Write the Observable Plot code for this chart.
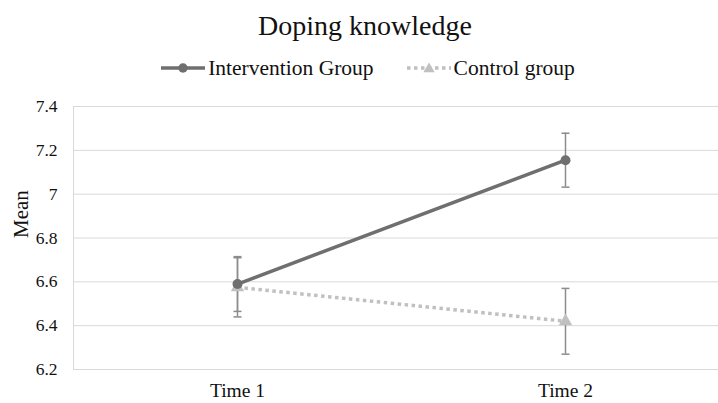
<!DOCTYPE html>
<html>
<head>
<meta charset="utf-8">
<script src="https://cdn.jsdelivr.net/npm/d3@7"></script>
<script src="https://cdn.jsdelivr.net/npm/@observablehq/plot@0.6"></script>
<style>
  body { margin: 0; background: #fff; font-family: "Liberation Serif", serif; color: #111; }
  #wrap { width: 718px; height: 403px; overflow: hidden; position: relative; }
  #title { height: 48px; line-height: 52px; text-align: center; font-size: 28px; padding-left: 12px; }
  #legend { height: 40px; display: flex; justify-content: center; align-items: center; font-size: 21.5px; gap: 33px; padding-left: 18px; }
  .item { display: flex; align-items: center; gap: 3px; }
  #chart svg, #chart svg text, #chart svg g { font-family: "Liberation Serif", serif !important; font-variant: normal !important; }
  svg { display: block; }
</style>
</head>
<body>
<div id="wrap">
  <div id="title"></div>
  <div id="legend"></div>
  <div id="chart"></div>
</div>
<script>
// ---- data ----
const times = ["Time 1", "Time 2"];
const interventionMean = [6.59, 7.155];
const interventionErr = [0.125, 0.123];
const controlMean = [6.575, 6.42];
const controlErr = [0.135, 0.15];
const seriesNames = ["Intervention Group", "Control group"];
const yTicks = [6.2, 6.4, 6.6, 6.8, 7, 7.2, 7.4];
const titleText = "Doping knowledge";
const yLabel = "Mean";

const colors = {"Intervention Group": "#6f6f6f", "Control group": "#c0c0c0"};
const dashes = {"Intervention Group": null, "Control group": "3.5,3.5"};
const symbols = {"Intervention Group": "circle", "Control group": "triangle"};

const rows = [];
times.forEach((t, i) => {
  rows.push({time: t, series: seriesNames[0], mean: interventionMean[i], err: interventionErr[i]});
});
times.forEach((t, i) => {
  rows.push({time: t, series: seriesNames[1], mean: controlMean[i], err: controlErr[i]});
});
const inter = rows.filter(d => d.series === seriesNames[0]);
const ctrl = rows.filter(d => d.series === seriesNames[1]);

document.getElementById("title").textContent = titleText;

// legend
const legend = document.getElementById("legend");
seriesNames.forEach(name => {
  const it = document.createElement("div");
  it.className = "item";
  const ns = "http://www.w3.org/2000/svg";
  const s = document.createElementNS(ns, "svg");
  s.setAttribute("width", 44); s.setAttribute("height", 14);
  const l = document.createElementNS(ns, "line");
  l.setAttribute("x1", 0); l.setAttribute("x2", 44); l.setAttribute("y1", 7); l.setAttribute("y2", 7);
  l.setAttribute("stroke", colors[name]); l.setAttribute("stroke-width", 3.5);
  if (dashes[name]) l.setAttribute("stroke-dasharray", dashes[name]);
  s.appendChild(l);
  const sym = document.createElementNS(ns, "path");
  const type = symbols[name] === "circle" ? d3.symbolCircle : d3.symbolTriangle;
  sym.setAttribute("d", d3.symbol(type, symbols[name] === "circle" ? 70 : 55)());
  sym.setAttribute("transform", symbols[name] === "circle" ? "translate(22,7)" : "translate(22,8)");
  sym.setAttribute("fill", colors[name]);
  s.appendChild(sym);
  it.appendChild(s);
  const tx = document.createElement("span");
  tx.textContent = name;
  it.appendChild(tx);
  legend.appendChild(it);
});

// custom cap symbol for error bars
const capSymbol = { draw(ctx, size) { const r = 4; ctx.moveTo(-r, 0); ctx.lineTo(r, 0); } };

const chart = Plot.plot({
  width: 718,
  height: 315,
  marginTop: 18,
  marginBottom: 34,
  marginLeft: 73,
  marginRight: 0,
  style: {fontFamily: "Liberation Serif, serif", fontSize: "17px", color: "#111", background: "white"},
  x: {type: "point", domain: times, range: [73, 729], padding: 0.5},
  y: {domain: [6.2, 7.4]},
  marks: [
    Plot.gridY(yTicks, {stroke: "#d9d9d9", strokeOpacity: 1, strokeWidth: 1}),
    Plot.frame({anchor: "left", stroke: "#d9d9d9"}),
    Plot.axisY(yTicks, {tickSize: 0, tickPadding: 16, tickFormat: d => d3.format("~g")(d), fontSize: 17.5, fontVariant: "normal", label: null}),
    Plot.text([yLabel], {frameAnchor: "left", rotate: -90, dx: -52, fontSize: 21, fill: "#111"}),
    Plot.axisX(times, {tickSize: 0, tickPadding: 14, fontSize: 19.5, label: null}),
    // error bars
    Plot.ruleX(rows, {x: "time", y1: d => d.mean - d.err, y2: d => d.mean + d.err, stroke: "#8c8c8c", strokeWidth: 1.5}),
    Plot.dot(rows, {x: "time", y: d => d.mean + d.err, symbol: capSymbol, stroke: "#8c8c8c", strokeWidth: 1.5, fill: "none", r: 4}),
    Plot.dot(rows, {x: "time", y: d => d.mean - d.err, symbol: capSymbol, stroke: "#8c8c8c", strokeWidth: 1.5, fill: "none", r: 4}),
    // lines
    Plot.line(ctrl, {x: "time", y: "mean", stroke: colors[seriesNames[1]], strokeWidth: 3.5, strokeDasharray: dashes[seriesNames[1]], strokeLinecap: "butt"}),
    Plot.dot(ctrl, {x: "time", y: "mean", symbol: "triangle", fill: colors[seriesNames[1]], r: 5}),
    Plot.line(inter, {x: "time", y: "mean", stroke: colors[seriesNames[0]], strokeWidth: 3.5}),
    Plot.dot(inter, {x: "time", y: "mean", symbol: "circle", fill: colors[seriesNames[0]], r: 5})
  ]
});
document.getElementById("chart").appendChild(chart);
</script>
</body>
</html>
